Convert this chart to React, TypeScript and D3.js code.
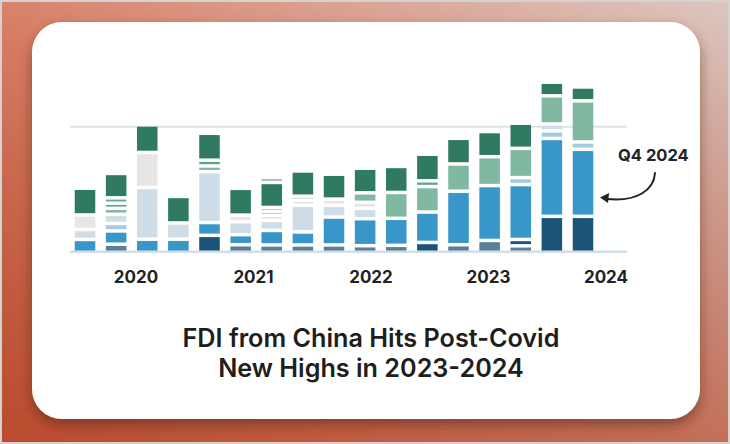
import React from 'react';
import * as d3 from 'd3';

const periods = [
  'Q4 2020', 'Q1 2021', 'Q2 2021', 'Q3 2021', 'Q4 2021', 'Q1 2022', 'Q2 2022', 'Q3 2022', 'Q4 2022',
  'Q1 2023', 'Q2 2023', 'Q3 2023', 'Q4 2023', 'Q1 2024', 'Q2 2024', 'Q3 2024', 'Q4 2024',
];

const slate = [0, 0.6, 0, 0, 0, 0.56, 0.54, 0.54, 0.54, 0.48, 0.51, 0, 0.56, 0.9, 0.47, 0, 0];
const navy = [0, 0, 0, 0, 1.31, 0, 0, 0, 0, 0, 0, 0.74, 0, 0, 0.51, 2.83, 2.83];
const blue = [0.98, 1.06, 1.0, 1.0, 1.02, 0.8, 1.16, 1.04, 2.23, 2.16, 2.16, 2.43, 4.28, 4.39, 4.39, 6.23, 5.36];
const lightBlue = [0, 0.6, 0, 0, 0, 0, 0, 0, 0, 0, 0, 0, 0, 0, 0.56, 0.6, 0.59];
const paleBlue = [0.8, 0.73, 4.14, 1.3, 4.07, 1.04, 0.8, 2.14, 0.94, 0.83, 0, 0, 0, 0, 0, 0.56, 0];
const lightGray = [1.16, 0, 2.8, 0, 0, 0.53, 0.41, 0.4, 0.5, 0.48, 0, 0, 0, 0, 0, 0, 0];
const lightGreen = [0, 0.48, 0, 0, 0.46, 0, 0.33, 0.32, 0, 0.76, 2.07, 2.04, 2.18, 2.31, 2.34, 2.25, 3.29];
const midGreen = [0, 0.41, 0, 0, 0.46, 0, 0.3, 0, 0, 0, 0, 0.46, 0, 0, 0, 0, 0];
const stripeGreen = [0, 0.43, 0, 0, 0, 0, 0, 0, 0, 0, 0, 0, 0, 0, 0, 0, 0];
const darkGreen = [2.14, 1.95, 2.2, 2.12, 2.15, 2.14, 2.0, 2.02, 1.99, 1.97, 2.08, 2.13, 2.05, 2.01, 2.01, 1.09, 1.11];
const topGray = [0, 0, 0, 0, 0, 0, 0.4, 0, 0, 0, 0, 0, 0, 0, 0, 0, 0];

const seriesKeys = ['slate', 'navy', 'blue', 'lightBlue', 'paleBlue', 'lightGray', 'lightGreen', 'midGreen', 'stripeGreen', 'darkGreen', 'topGray'];
const seriesData: Record<string, number[]> = { slate, navy, blue, lightBlue, paleBlue, lightGray, lightGreen, midGreen, stripeGreen, darkGreen, topGray };
const seriesColors = ['#5a7f98', '#1b5479', '#3896c8', '#a5cae1', '#cfdde8', '#e6e6e6', '#80b8a2', '#5ba488', '#62a98d', '#2f7a60', '#a2a2a2'];

const years = [2020, 2021, 2022, 2023, 2024];
const titleLines = ['FDI from China Hits Post-Covid', 'New Highs in 2023-2024'];
const annotation = 'Q4 2024';
const gridValues = [10];

export default function App() {
  const W = 730;
  const H = 444;
  const x = d3.scaleBand<string>().domain(periods).range([69.44, 598.56]).paddingInner(0.34).paddingOuter(0.17);
  const y = d3.scaleLinear().domain([0, 10]).range([251.7, 126.7]);
  const yearX = d3.scaleLinear().domain([2020, 2024]).range([136, 606]);
  const rows = periods.map((p, i) => {
    const r: any = { period: p };
    seriesKeys.forEach((k) => (r[k] = seriesData[k][i]));
    return r;
  });
  const stacked = d3.stack<any>().keys(seriesKeys)(rows);
  const gap = 3.5;
  const color = d3.scaleOrdinal<string, string>().domain(seriesKeys).range(seriesColors);
  const font = 'Inter, "Noto Sans", sans-serif';

  return (
    <svg width={W} height={H} style={{ position: 'absolute', left: 0, top: 0 }} xmlns="http://www.w3.org/2000/svg">
      <defs>
        <linearGradient id="bg" x1="0" y1="1" x2="1" y2="0">
          <stop offset="0" stopColor="#cf5535" />
          <stop offset="0.45" stopColor="#d97c62" />
          <stop offset="1" stopColor="#ddc7c1" />
        </linearGradient>
        <linearGradient id="bg2" x1="0" y1="0" x2="0" y2="1">
          <stop offset="0" stopColor="#000" stopOpacity="0" />
          <stop offset="1" stopColor="#5a1c0c" stopOpacity="0.18" />
        </linearGradient>
        <filter id="shadow" x="-10%" y="-10%" width="120%" height="130%">
          <feDropShadow dx="0" dy="6" stdDeviation="6" floodColor="#4a1a0c" floodOpacity="0.5" />
        </filter>
      </defs>
      <rect x={0} y={0} width={W} height={H} fill="url(#bg)" />
      <rect x={0} y={0} width={W} height={H} fill="url(#bg2)" />
      <rect x={1} y={1} width={W - 2} height={H - 2} fill="none" stroke="#d6d2d0" strokeWidth={2} />
      <rect x={32} y={22} width={668} height={397} rx={30} ry={30} fill="#ffffff" filter="url(#shadow)" />

      {gridValues.map((v) => (
        <line key={v} x1={70} x2={627} y1={y(v)} y2={y(v)} stroke="#dbe4eb" strokeWidth={2} />
      ))}

      {stacked.map((layer) => (
        <g key={layer.key} fill={color(layer.key)}>
          {layer.map((d, i) => {
            const v = d[1] - d[0];
            if (v <= 0) return null;
            const top = y(d[1]) + gap / 2;
            const bottom = d[0] === 0 ? y(0) : y(d[0]) - gap / 2;
            return (
              <rect key={i} x={x(periods[i])} y={top} width={x.bandwidth()} height={Math.max(0.5, bottom - top)} />
            );
          })}
        </g>
      ))}

      <line x1={70} x2={627} y1={y(0)} y2={y(0)} stroke="#d3dee7" strokeWidth={2.5} />

      {years.map((yr) => (
        <text key={yr} x={yearX(yr)} y={283} textAnchor="middle" fontFamily={font} fontWeight={700} fontSize={17} fill="#222">
          {yr}
        </text>
      ))}

      <text x={618} y={161} fontFamily={font} fontWeight={700} fontSize={16.5} fill="#222">
        {annotation}
      </text>
      <path d="M655,173 C654,190 637,202 607,199" fill="none" stroke="#222" strokeWidth={2} strokeLinecap="round" />
      <path d="M600,197.5 L609,193 L608,203 Z" fill="#222" />

      {titleLines.map((t, i) => (
        <text key={i} x={371} y={347 + i * 30} textAnchor="middle" fontFamily={font} fontWeight={600} fontSize={25.2} fill="#1e1e1e">
          {t}
        </text>
      ))}
    </svg>
  );
}
